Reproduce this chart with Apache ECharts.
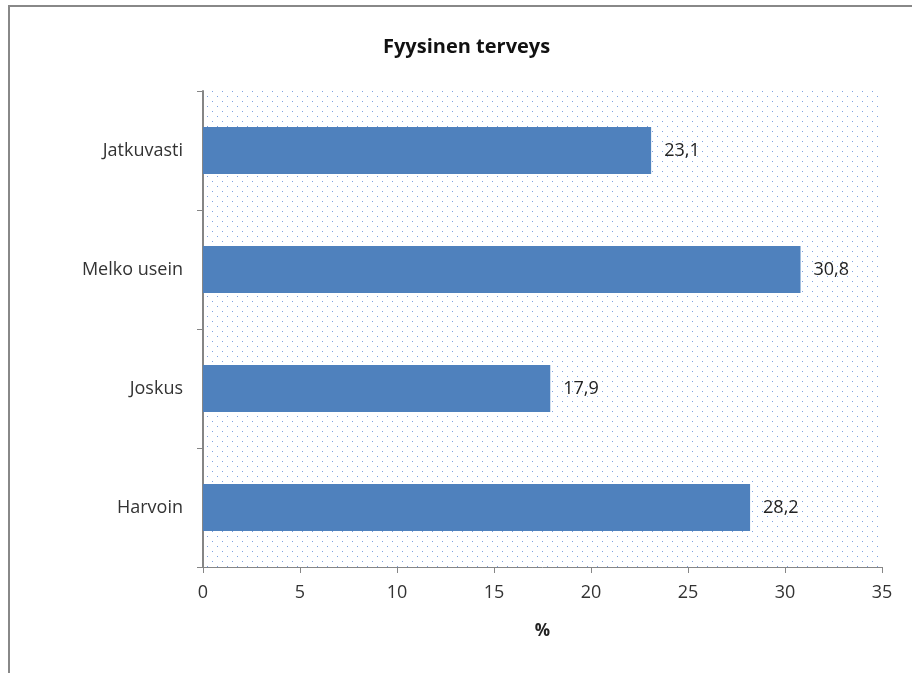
<!DOCTYPE html>
<html>
<head>
<meta charset="utf-8">
<script src="https://cdn.jsdelivr.net/npm/echarts@6/dist/echarts.min.js"></script>
<style>
  html, body { margin: 0; padding: 0; background: #fff; }
  #chart { width: 912px; height: 673px; }
</style>
</head>
<body>
<div id="chart"></div>
<script>
// data (top to bottom)
var categories = ['Jatkuvasti', 'Melko usein', 'Joskus', 'Harvoin']
var values = [23.1, 30.8, 17.9, 28.2]
var xTicks = [0, 5, 10, 15, 20, 25, 30, 35]

// dotted plot background, like the office chart fill
function dotPattern () {
  var c = document.createElement('canvas')
  c.width = 10
  c.height = 10
  var ctx = c.getContext('2d')
  ctx.fillStyle = '#ffffff'
  ctx.fillRect(0, 0, 10, 10)
  ctx.fillStyle = 'rgb(125,160,225)'
  ctx.fillRect(2, 1, 1, 1)
  ctx.fillRect(7, 6, 1, 1)
  return c
}

var myChart = echarts.init(document.getElementById('chart'))
var font = '"Open Sans", "Noto Sans", sans-serif'
var axisGray = '#868686'

var option = {
  backgroundColor: '#ffffff',
  animation: false,
  textStyle: { fontFamily: font },
  title: {
    text: 'Fyysinen terveys',
    left: 378,
    top: 32,
    textStyle: { fontSize: 20, fontWeight: 'bold', color: '#111', fontFamily: font }
  },
  graphic: [{
    type: 'rect',
    shape: { x: 9, y: 6, width: 920, height: 700 },
    style: { fill: 'none', stroke: '#888888', lineWidth: 2 },
    silent: true
  }],
  grid: {
    left: 203,
    right: 30,
    top: 91,
    bottom: 106,
    show: true,
    borderWidth: 0,
    backgroundColor: { image: dotPattern(), repeat: 'repeat' }
  },
  xAxis: {
    type: 'value',
    min: 0,
    max: 35,
    interval: 5,
    name: '%',
    nameLocation: 'middle',
    nameGap: 56,
    nameTextStyle: { fontSize: 17, fontWeight: 'bold', color: '#222', fontFamily: font },
    splitLine: { show: false },
    axisLine: { show: true, lineStyle: { color: axisGray, width: 1 } },
    axisTick: { show: true, length: 6, lineStyle: { color: axisGray } },
    axisLabel: {
      fontSize: 18,
      color: '#333',
      margin: 17,
      formatter: function (v) { return xTicks.indexOf(v) >= 0 ? String(v) : '' }
    }
  },
  yAxis: {
    type: 'category',
    inverse: true,
    data: categories,
    axisLine: { show: true, lineStyle: { color: axisGray, width: 2 } },
    axisTick: { show: true, length: 6, lineStyle: { color: axisGray } },
    axisLabel: { fontSize: 18, color: '#333', margin: 20 }
  },
  series: [{
    type: 'bar',
    data: values,
    barWidth: 47,
    itemStyle: { color: '#4F81BD' },
    label: {
      show: true,
      position: 'right',
      distance: 13,
      fontSize: 18,
      color: '#222',
      fontFamily: font,
      formatter: function (p) { return String(p.value).replace('.', ',') }
    }
  }]
}
myChart.setOption(option)
</script>
</body>
</html>
